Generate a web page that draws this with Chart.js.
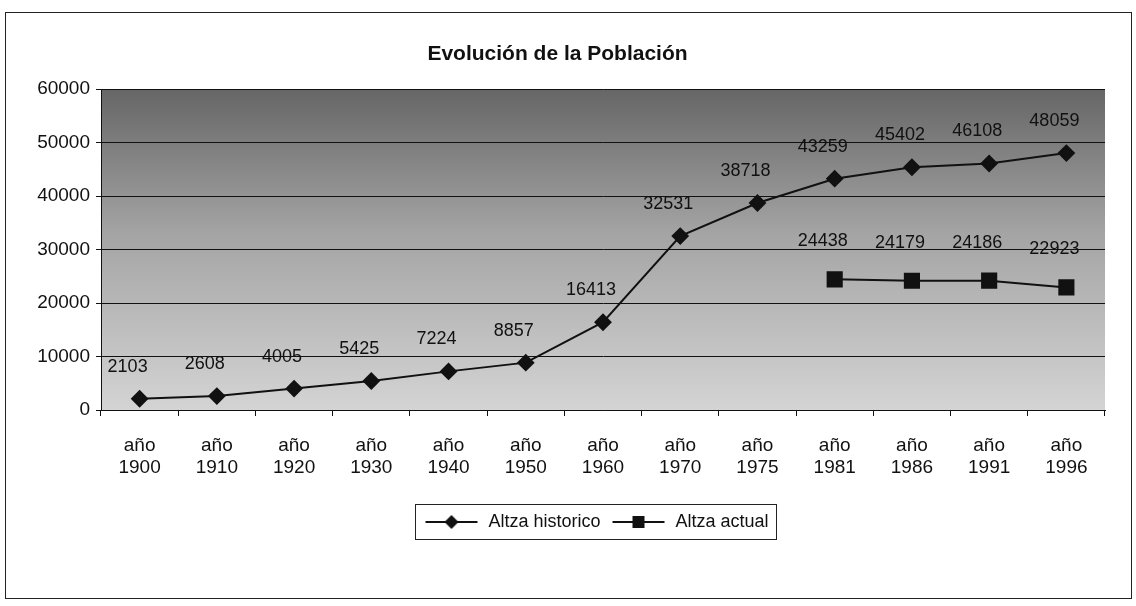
<!DOCTYPE html>
<html>
<head>
<meta charset="utf-8">
<script src="https://cdn.jsdelivr.net/npm/chart.js@4.4.1/dist/chart.umd.min.js"></script>
<style>
  html, body { margin: 0; padding: 0; background: #fff; }
  #wrap { position: relative; width: 1136px; height: 606px; }
  #frame { position: absolute; left: 5px; top: 12px; width: 1125px; height: 585px; border: 1px solid #222; pointer-events: none; }
  canvas { position: absolute; left: 0; top: 0; }
</style>
</head>
<body>
<div id="wrap">
  <canvas id="popChart" width="1136" height="606"></canvas>
  <div id="frame"></div>
</div>
<script>
const years = ["1900", "1910", "1920", "1930", "1940", "1950", "1960", "1970", "1975", "1981", "1986", "1991", "1996"];
const historico = [2103, 2608, 4005, 5425, 7224, 8857, 16413, 32531, 38718, 43259, 45402, 46108, 48059];
const actual = [null, null, null, null, null, null, null, null, null, 24438, 24179, 24186, 22923];
const yTicks = [0, 10000, 20000, 30000, 40000, 50000, 60000];

const labels = years.map(y => ["año", y]);
const FONT = "'Liberation Sans', Arial, sans-serif";

// marcador de leyenda: linea con simbolo
function legendMarker(shape) {
  const c = document.createElement("canvas");
  c.width = 56;
  c.height = 16;
  const x = c.getContext("2d");
  x.strokeStyle = "#111";
  x.fillStyle = "#111";
  x.lineWidth = 2;
  x.beginPath();
  x.moveTo(2, 8);
  x.lineTo(54, 8);
  x.stroke();
  x.beginPath();
  if (shape === "diamond") {
    x.moveTo(28, 1); x.lineTo(35, 8); x.lineTo(28, 15); x.lineTo(21, 8);
  } else {
    x.rect(22, 2, 12, 12);
  }
  x.closePath();
  x.fill();
  return c;
}

// fondo degradado del area de trazado
const plotBackground = {
  id: "plotBackground",
  beforeDraw(chart) {
    const { ctx, chartArea: a } = chart;
    const g = ctx.createLinearGradient(0, a.top, 0, a.bottom);
    g.addColorStop(0, "#666666");
    g.addColorStop(0.45, "#a4a4a4");
    g.addColorStop(1, "#d4d4d4");
    ctx.save();
    ctx.fillStyle = g;
    ctx.fillRect(a.left, a.top, a.right - a.left, a.bottom - a.top);
    ctx.restore();
  }
};

// etiquetas de datos encima de cada punto
const valueLabels = {
  id: "valueLabels",
  afterDatasetsDraw(chart) {
    const ctx = chart.ctx;
    ctx.save();
    ctx.font = "18px " + FONT;
    ctx.fillStyle = "#111";
    ctx.textAlign = "center";
    ctx.textBaseline = "middle";
    chart.data.datasets.forEach((ds, i) => {
      const meta = chart.getDatasetMeta(i);
      const dy = i === 0 ? -32 : -38;
      meta.data.forEach((pt, j) => {
        const v = ds.data[j];
        if (v == null) return;
        ctx.fillText(String(v), pt.x - 12, pt.y + dy);
      });
    });
    ctx.restore();
  }
};

// leyenda centrada sobre el area de trazado, con recuadro
const legendBox = {
  id: "legendBox",
  afterLayout(chart) {
    const l = chart.legend;
    const shift = (chart.chartArea.left + chart.chartArea.right) / 2 - (l.left + l.right) / 2 - 7;
    l.left += shift;
    l.right += shift;
  },
  afterDraw(chart) {
    const hb = chart.legend && chart.legend.legendHitBoxes;
    if (!hb || !hb.length) return;
    const left = Math.min(...hb.map(b => b.left)) - 8;
    const right = Math.max(...hb.map(b => b.left + b.width)) + 8;
    const top = Math.min(...hb.map(b => b.top)) - 9;
    const bottom = Math.max(...hb.map(b => b.top + b.height)) + 8;
    const ctx = chart.ctx;
    ctx.save();
    ctx.strokeStyle = "#222";
    ctx.lineWidth = 1;
    ctx.strokeRect(Math.round(left) + 0.5, Math.round(top) + 0.5, Math.round(right - left), Math.round(bottom - top));
    ctx.restore();
  }
};

new Chart(document.getElementById("popChart"), {
  type: "line",
  data: {
    labels,
    datasets: [
      {
        label: "Altza historico",
        data: historico,
        borderColor: "#111",
        backgroundColor: "#111",
        borderWidth: 2,
        pointStyle: "rectRot",
        pointRadius: 7.5,
        tension: 0
      },
      {
        label: "Altza actual",
        data: actual,
        borderColor: "#111",
        backgroundColor: "#111",
        borderWidth: 2,
        pointStyle: "rect",
        pointRadius: 10,
        tension: 0
      }
    ]
  },
  options: {
    responsive: false,
    animation: false,
    layout: { padding: { left: 10, right: 31, top: 0, bottom: 65 } },
    plugins: {
      title: {
        display: true,
        text: "Evolución de la Población",
        color: "#111",
        font: { family: FONT, size: 21, weight: "bold" },
        padding: { top: 42, bottom: 22 }
      },
      legend: {
        position: "bottom",
        labels: {
          usePointStyle: true,
          pointStyleWidth: 56,
          color: "#111",
          font: { family: FONT, size: 18 },
          padding: 10,
          generateLabels: chart => chart.data.datasets.map((ds, i) => ({
            text: ds.label,
            pointStyle: legendMarker(i === 0 ? "diamond" : "square"),
            fontColor: "#111",
            lineWidth: 0,
            hidden: false,
            datasetIndex: i
          }))
        }
      },
      tooltip: { enabled: false }
    },
    scales: {
      x: {
        offset: true,
        afterFit: axis => { axis.height = 93; },
        grid: { display: true, drawOnChartArea: false, offset: true, tickLength: 6, color: "#111" },
        border: { color: "#111", width: 1 },
        ticks: {
          color: "#111",
          font: { family: FONT, size: 19 },
          maxRotation: 0,
          padding: 18
        }
      },
      y: {
        min: 0,
        max: 60000,
        afterBuildTicks: axis => { axis.ticks = yTicks.map(v => ({ value: v })); },
        afterFit: axis => { axis.width = 91; },
        grid: { color: "#111", lineWidth: 1, tickLength: 5 },
        border: { color: "#111", width: 1 },
        ticks: {
          color: "#111",
          font: { family: FONT, size: 19 },
          padding: 6,
          callback: v => String(v)
        }
      }
    }
  },
  plugins: [plotBackground, valueLabels, legendBox]
});
</script>
</body>
</html>
